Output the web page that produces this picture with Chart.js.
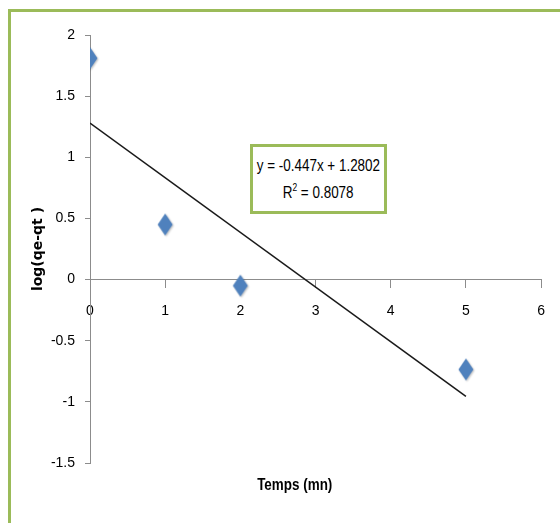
<!DOCTYPE html>
<html>
<head>
<meta charset="utf-8">
<script src="https://cdn.jsdelivr.net/npm/chart.js@4"></script>
<style>
  body { margin: 0; background: #fff; }
  #wrap { position: relative; width: 560px; height: 523px; overflow: hidden; background: #fff; }
  #frame { position: absolute; left: 8px; top: 9px; width: 700px; height: 700px; border: 3px solid #9bbb59; box-sizing: border-box; }
  #chart { position: absolute; left: 0; top: 0; }
  .narrow { font-family: "Liberation Sans", Arial, sans-serif; white-space: nowrap; }
  .line { display: flex; justify-content: center; }
  .squeeze { display: inline-block; transform: scaleX(0.84); transform-origin: center; }
  #xtitle { position: absolute; left: 230px; width: 130px; top: 476px; font-size: 16px; font-weight: bold; color: #000; }
  #eqbox { position: absolute; left: 250px; top: 144px; width: 137px; height: 70px; border: 3px solid #9bbb59; box-sizing: border-box; background: #fff; font-size: 16px; color: #000; line-height: 27px; padding-top: 5px; }
  #eqbox sup { font-size: 10px; position: relative; top: -7px; vertical-align: baseline; }
</style>
</head>
<body>
<div id="wrap">
  <div id="frame"></div>
  <canvas id="chart" width="560" height="523"></canvas>
  <div id="eqbox" class="narrow">
    <div class="line"><span class="squeeze">y = -0.447x + 1.2802</span></div>
    <div class="line"><span class="squeeze">R<sup>2</sup> = 0.8078</span></div>
  </div>
  <div id="xtitle" class="narrow line"><span class="squeeze">Temps (mn)</span></div>
</div>
<script>
// Data
const timeValues = [0, 1, 2, 5];
const logValues = [1.81, 0.45, -0.05, -0.735];

// Trendline end points (from the equation shown)
const trendX = [0, 5];
const trendY = [1.2802, -0.9548];

const tickFont = '"Liberation Sans", Arial, sans-serif';

// Diamond marker like the Excel one
function makeDiamond() {
  const c = document.createElement("canvas");
  c.width = 22;
  c.height = 28;
  const g = c.getContext("2d");
  g.shadowColor = "rgba(0,0,0,0.25)";
  g.shadowBlur = 2;
  g.shadowOffsetX = 1;
  g.shadowOffsetY = 1;
  g.fillStyle = "#4f81bd";
  g.beginPath();
  g.moveTo(11, 3);
  g.lineTo(18.5, 14);
  g.lineTo(11, 25);
  g.lineTo(3.5, 14);
  g.closePath();
  g.fill();
  return c;
}

const diamond = makeDiamond();

function tickText(v) {
  return String(Number(v.toFixed(1)));
}

const ctx = document.getElementById("chart").getContext("2d");
const chart = new Chart(ctx, {
  type: "scatter",
  data: {
    datasets: [
      {
        label: "data",
        data: timeValues.map((x, i) => ({ x: x, y: logValues[i] })),
        pointStyle: diamond,
        pointRadius: 10,
        order: 1,
      },
      {
        type: "line",
        label: "trend",
        data: trendX.map((x, i) => ({ x: x, y: trendY[i] })),
        borderColor: "#1a1a1a",
        borderWidth: 1.5,
        pointRadius: 0,
        fill: false,
        order: 2,
      },
    ],
  },
  options: {
    responsive: false,
    animation: false,
    layout: {
      padding: { left: 0, right: 18, top: 35, bottom: 60 },
    },
    plugins: {
      legend: { display: false },
      tooltip: { enabled: false },
    },
    scales: {
      x: {
        type: "linear",
        position: { y: 0 },
        min: 0,
        max: 6,
        ticks: {
          stepSize: 1,
          color: "#000",
          padding: 15,
          callback: tickText,
          font: { family: tickFont, size: 14 },
        },
        grid: {
          drawOnChartArea: false,
          drawTicks: true,
          tickLength: 8,
          color: "#8c8c8c",
        },
        border: { color: "#8c8c8c", width: 1 },
      },
      y: {
        type: "linear",
        position: "left",
        min: -1.5,
        max: 2,
        afterFit: (scale) => {
          scale.width = 90;
        },
        ticks: {
          stepSize: 0.5,
          color: "#000",
          padding: 10,
          callback: tickText,
          font: { family: tickFont, size: 14 },
        },
        grid: {
          drawOnChartArea: false,
          drawTicks: true,
          tickLength: 5,
          color: "#8c8c8c",
        },
        border: { color: "#8c8c8c", width: 1 },
        title: {
          display: true,
          text: "log(qe-qt )",
          color: "#000",
          padding: { top: 30, bottom: 0 },
          font: { family: "DejaVu Sans", size: 14, weight: "bold" },
        },
      },
    },
  },
});
</script>
</body>
</html>
